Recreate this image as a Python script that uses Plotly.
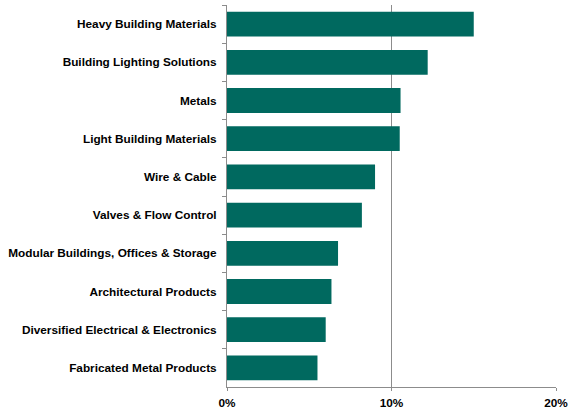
import plotly.graph_objects as go

# Segment names, listed top to bottom
segments = [
    "Heavy Building Materials",
    "Building Lighting Solutions",
    "Metals",
    "Light Building Materials",
    "Wire & Cable",
    "Valves & Flow Control",
    "Modular Buildings, Offices & Storage",
    "Architectural Products",
    "Diversified Electrical & Electronics",
    "Fabricated Metal Products",
]
# Values in percent
values = [15.0, 12.2, 10.55, 10.5, 9.0, 8.2, 6.75, 6.35, 6.0, 5.5]

x_ticks = [0, 10, 20]
x_tick_text = ["0%", "10%", "20%"]

bar_color = "#00695F"
axis_gray = "#8C8C8C"
font_family = "Arial, 'Liberation Sans', sans-serif"
label_font = dict(family=font_family, size=11.8, color="black", weight="bold")

fig = go.Figure(
    go.Bar(
        x=values,
        y=segments,
        orientation="h",
        marker=dict(color=bar_color, line=dict(width=0)),
        width=0.65,
    )
)

fig.update_layout(
    width=571,
    height=409,
    margin=dict(l=227, r=15, t=5, b=22),
    paper_bgcolor="white",
    plot_bgcolor="white",
    showlegend=False,
    font=dict(family=font_family, size=11.8, color="black"),
)

fig.update_xaxes(
    range=[0, 20],
    tickvals=x_ticks,
    ticktext=x_tick_text,
    tickfont=label_font,
    showgrid=True,
    gridcolor=axis_gray,
    gridwidth=1,
    showline=True,
    linecolor=axis_gray,
    linewidth=1,
    ticks="outside",
    ticklen=3,
    tickcolor=axis_gray,
    ticklabelstandoff=2,
    zeroline=False,
    automargin=False,
    fixedrange=True,
)

fig.update_yaxes(
    categoryorder="array",
    categoryarray=segments,
    autorange="reversed",
    tickfont=label_font,
    showline=True,
    linecolor=axis_gray,
    linewidth=1,
    ticks="outside",
    tickson="boundaries",
    ticklen=4,
    tickcolor=axis_gray,
    showgrid=False,
    ticklabelstandoff=7,
    automargin=False,
    fixedrange=True,
)

fig.write_html("out.html")
